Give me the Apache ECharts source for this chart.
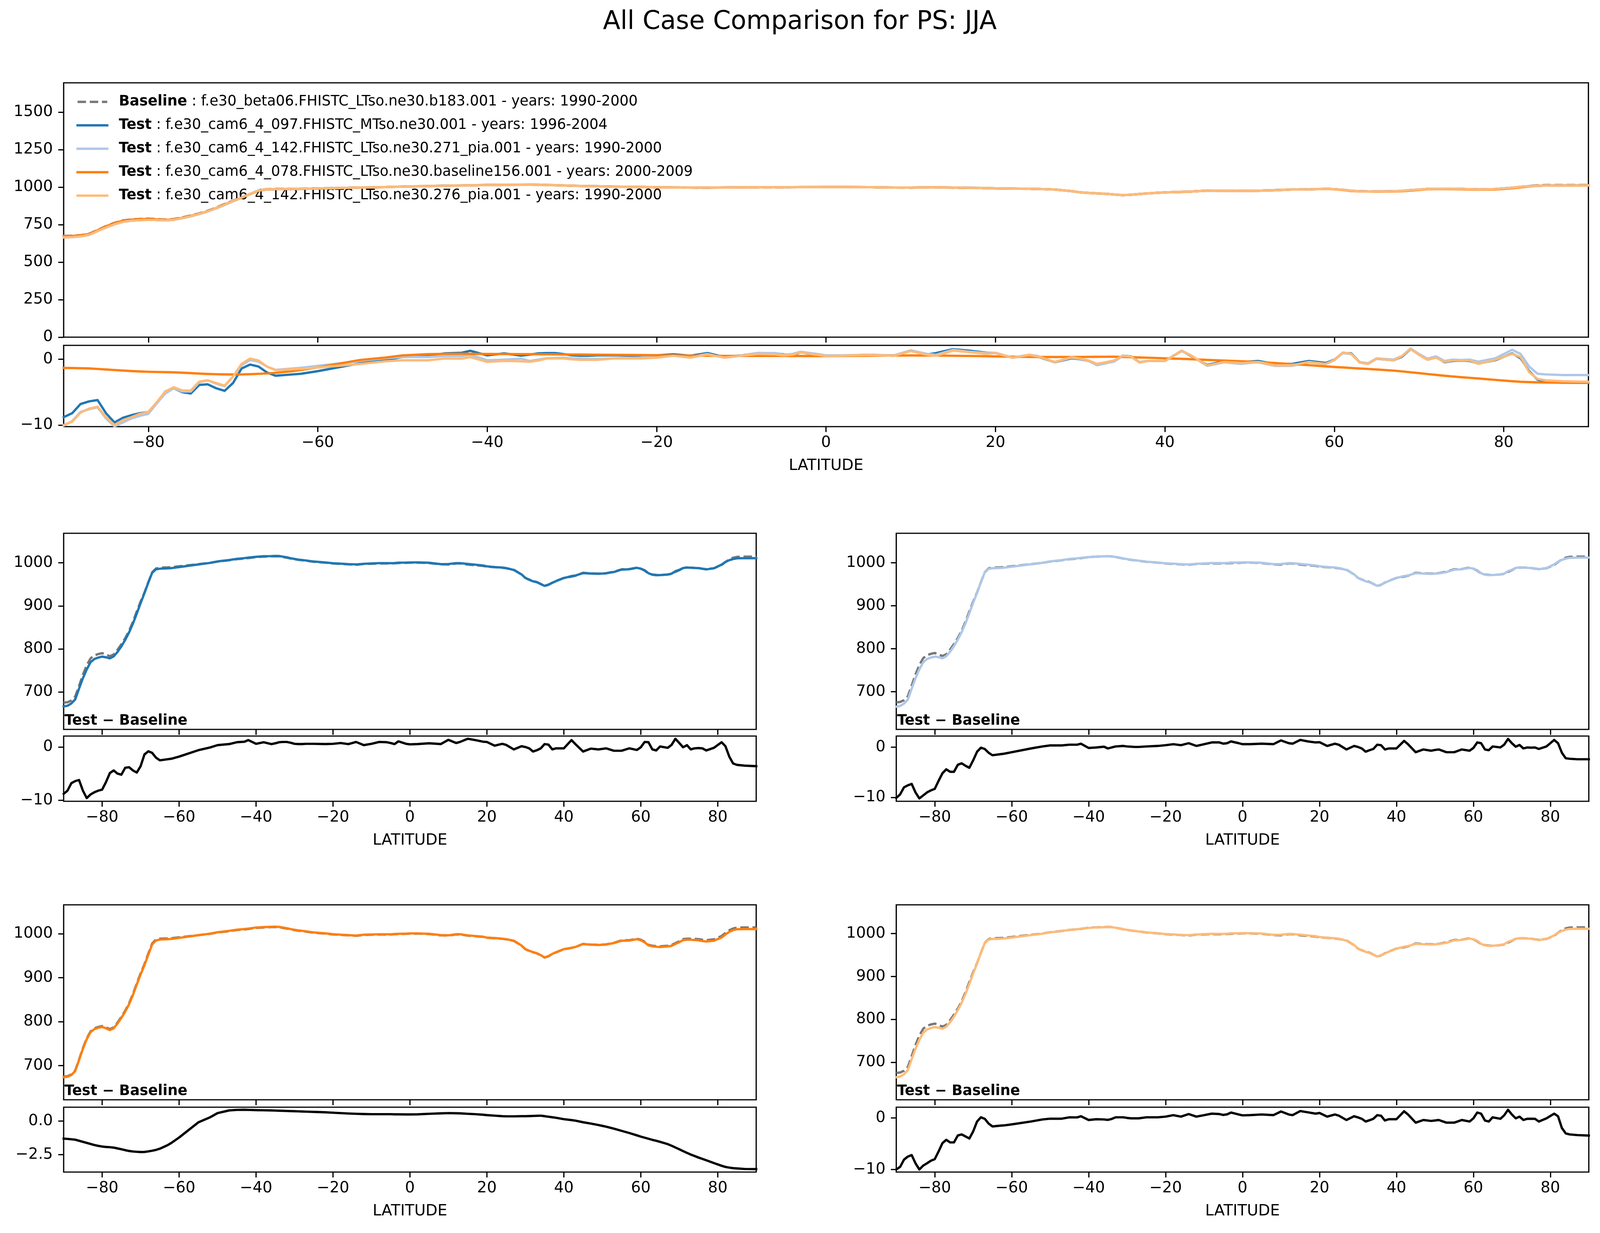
<!DOCTYPE html>
<html><head><meta charset="utf-8">
<script src="https://cdn.jsdelivr.net/npm/echarts@6/dist/echarts.min.js"></script>
<style>html,body{margin:0;padding:0;background:#fff;overflow:hidden;width:100%;height:100%}#c{width:100vw;height:100vh}</style>
</head><body><div id="c"></div>
<script>
// ---------------- DATA ----------------
const lat = [-90,-89,-88,-87,-86,-85,-84,-83,-82,-81,
 -80,-79,-78,-77,-76,-75,-74,-73,-72,-71,
 -70,-69,-68,-67,-66,-65,-63,-62,-60,-55,
 -52,-50,-47,-45,-43,-42,-40,-38,-36,-35,
 -34,-33,-32,-31,-30,-29,-28,-27,-25,-22,
 -20,-18,-16,-14,-12,-10,-8,-6,-5,-4,
 -3,-1,0,2,5,8,10,12,13,15,
 17,19,20,22,24,25,27,29,30,31,
 32,33,34,35,36,37,38,40,42,43,
 45,47,49,50,51,53,55,57,59,60,
 61,62,63,64,65,67,68,69,70,71,
 72,73,74,75,76,77,79,81,82,83,
 84,85,87,90];

const baselinePS = [675,676,680,689,714,740,762,778,785,788,
 790,787,783,787,798,811,825,842,863,887,
 910,931,955,978,987,989,989.5,990,992,997,
 1000,1003,1006,1008.5,1010,1011,1013.5,1014.5,1015.2,1015.5,
 1015,1013.5,1012,1010,1008.5,1007,1006,1005,1002.5,1000.5,
 998.5,997.5,996.5,995.5,997.5,998,998.5,998.5,998.5,999,
 999.5,1000,1000.5,1000.5,999.5,996.5,996,998.5,998.5,996,
 994.5,993,991,990,988.5,987.5,984,973,965,961,
 958,955.5,951,946,949,954,958,965,968,970,
 977,975.5,975,975.5,976,979.5,985,985.5,989,986.5,
 982,975,973,972,971.5,973,974.5,979,983,988,
 989,989,988.5,988,986.5,985.5,987.5,995,1002,1008,
 1012,1014,1014.5,1014.5];

const diffTest1 = [-8.8,-8.2,-6.8,-6.4,-6.2,-8.2,-9.6,-8.9,-8.5,-8.2,
 -8.0,-6.6,-4.9,-4.4,-5.0,-5.2,-3.9,-3.8,-4.4,-4.8,
 -3.6,-1.4,-0.8,-1.1,-2.0,-2.5,-2.3,-2.2,-1.8,-0.6,
 -0.1,0.35,0.55,0.9,1.0,1.3,0.6,0.9,0.55,0.7,
 0.9,0.95,0.95,0.8,0.6,0.55,0.55,0.6,0.6,0.55,
 0.6,0.75,0.55,0.95,0.35,0.6,0.95,0.9,0.75,0.55,
 1.07,0.6,0.5,0.55,0.7,0.55,1.35,0.75,0.95,1.55,
 1.3,1.0,0.95,0.25,0.6,0.4,-0.45,0.15,0.0,-0.25,
 -0.85,-0.6,-0.25,0.55,0.45,-0.45,-0.25,-0.25,1.3,0.55,
 -0.85,-0.3,-0.45,-0.35,-0.25,-0.7,-0.7,-0.25,-0.55,-0.05,
 0.95,0.9,-0.45,-0.65,0.1,-0.15,0.4,1.55,0.75,-0.05,
 0.35,-0.45,-0.25,-0.2,-0.25,-0.65,-0.15,0.9,0.15,-1.8,
 -3.1,-3.35,-3.5,-3.6];

const diffTest2 = [-10.1,-9.4,-8.0,-7.6,-7.3,-9.0,-10.2,-9.6,-9.0,-8.6,
 -8.3,-6.7,-5.2,-4.4,-4.9,-4.9,-3.5,-3.2,-3.7,-4.1,
 -2.6,-0.9,-0.1,-0.35,-1.1,-1.6,-1.4,-1.3,-1.0,-0.25,
 0.15,0.35,0.35,0.5,0.5,0.7,-0.15,-0.05,0.1,-0.25,
 -0.05,0.15,0.2,0.25,0.15,0.1,0.05,0.05,0.15,0.25,
 0.4,0.6,0.4,0.8,0.25,0.6,0.95,0.95,0.7,0.8,
 1.15,0.8,0.6,0.6,0.7,0.6,1.35,0.8,0.7,1.45,
 1.15,0.95,1.0,0.25,0.7,0.5,-0.45,0.25,0.05,-0.25,
 -0.9,-0.6,-0.35,0.5,0.4,-0.45,-0.25,-0.25,1.25,0.6,
 -1.0,-0.45,-0.7,-0.55,-0.45,-1.0,-1.0,-0.45,-0.7,-0.15,
 0.95,0.8,-0.45,-0.6,0.15,-0.05,0.5,1.65,0.8,0.1,
 0.45,-0.25,-0.05,-0.1,-0.05,-0.35,0.15,1.45,0.8,-1.1,
 -2.2,-2.3,-2.4,-2.4];

const diffTest3 = [-1.31,-1.33,-1.36,-1.39,-1.47,-1.55,-1.63,-1.71,-1.79,-1.85,
 -1.90,-1.93,-1.95,-1.98,-2.04,-2.10,-2.17,-2.23,-2.27,-2.29,
 -2.31,-2.30,-2.26,-2.21,-2.15,-2.06,-1.80,-1.63,-1.23,-0.10,
 0.27,0.59,0.79,0.83,0.84,0.83,0.81,0.80,0.79,0.78,
 0.77,0.76,0.75,0.74,0.73,0.72,0.71,0.70,0.68,0.65,
 0.62,0.59,0.56,0.54,0.52,0.51,0.51,0.51,0.51,0.50,
 0.50,0.49,0.49,0.50,0.54,0.57,0.59,0.58,0.57,0.54,
 0.51,0.47,0.44,0.40,0.36,0.35,0.35,0.36,0.36,0.37,
 0.38,0.39,0.40,0.36,0.32,0.28,0.24,0.14,0.07,0.03,
 -0.09,-0.19,-0.30,-0.36,-0.42,-0.57,-0.73,-0.89,-1.07,-1.16,
 -1.24,-1.32,-1.40,-1.47,-1.55,-1.72,-1.84,-1.97,-2.10,-2.24,
 -2.37,-2.50,-2.61,-2.72,-2.82,-2.92,-3.13,-3.33,-3.42,-3.47,
 -3.51,-3.53,-3.57,-3.58];

const diffTest4 = [-10.0,-9.5,-8.1,-7.5,-7.2,-8.8,-10.0,-9.25,-8.8,-8.3,
 -8.0,-6.5,-4.9,-4.25,-4.75,-4.75,-3.4,-3.2,-3.6,-4.0,
 -2.6,-0.7,0.12,-0.17,-1.1,-1.65,-1.5,-1.45,-1.25,-0.7,
 -0.3,-0.15,-0.15,0.12,0.1,0.33,-0.4,-0.25,-0.3,-0.38,
 -0.2,0.12,0.12,0.12,0.0,-0.08,-0.08,-0.08,0.12,0.12,
 0.25,0.54,0.25,0.75,0.25,0.54,0.83,0.75,0.58,0.7,
 1.04,0.67,0.5,0.54,0.67,0.54,1.25,0.67,0.54,1.33,
 1.08,0.83,0.96,0.25,0.67,0.45,-0.4,0.33,0.1,-0.17,
 -0.7,-0.45,-0.17,0.54,0.42,-0.5,-0.25,-0.25,1.29,0.67,
 -0.92,-0.4,-0.58,-0.5,-0.4,-0.92,-0.92,-0.4,-0.7,-0.08,
 1.04,0.83,-0.5,-0.7,0.12,-0.17,0.5,1.58,0.67,-0.08,
 0.25,-0.4,-0.17,-0.15,-0.17,-0.7,-0.08,0.83,0.33,-1.96,
 -3.0,-3.2,-3.33,-3.42];

const caseNames = [
  'f.e30_beta06.FHISTC_LTso.ne30.b183.001 - years: 1990-2000',
  'f.e30_cam6_4_097.FHISTC_MTso.ne30.001 - years: 1996-2004',
  'f.e30_cam6_4_142.FHISTC_LTso.ne30.271_pia.001 - years: 1990-2000',
  'f.e30_cam6_4_078.FHISTC_LTso.ne30.baseline156.001 - years: 2000-2009',
  'f.e30_cam6_4_142.FHISTC_LTso.ne30.276_pia.001 - years: 1990-2000'
];
const xTicks = [-80,-60,-40,-20,0,20,40,60,80];
const yTicksTop = [0,250,500,750,1000,1250,1500];
const yTicksPanel = [700,800,900,1000];
const yTicksDiff = [-10,0];
const yTicksDiff3 = [-2.5,0];
const titleText = 'All Case Comparison for PS: JJA';

// ---------------- BUILD ----------------
const el = document.getElementById('c');
const W = el.clientWidth || 4147, H = el.clientHeight || 3156;
const sx = W / 4147, sy = H / 3156, sf = Math.min(sx, sy);
const X = v => v * sx, Y = v => v * sy, S = v => v * sf;

const diffs = [diffTest1, diffTest2, diffTest3, diffTest4];
const tests = diffs.map(d => baselinePS.map((b, i) => b + d[i]));
const colors = ['#1f77b4', '#aec7e8', '#ff7f0e', '#ffbb78'];
const baseColor = '#787878';
const FONT = 'DejaVu Sans';
const LW = S(6);
const DASH = [S(22), S(9.6)];
const TICKF = S(40);

const fmtInt = v => (v < 0 ? '\u2212' : '') + Math.abs(v);
const fmt1 = v => (v < 0 ? '\u2212' : '') + Math.abs(v).toFixed(1);

const grids = [], xAxes = [], yAxes = [], series = [];
function addGrid(box, yMin, yMax, yTicks, showX, yFmt) {
  const idx = grids.length;
  grids.push({left: X(box.l), top: Y(box.t), width: X(box.w), height: Y(box.h), show: true,
    borderColor: '#000', borderWidth: S(3.2), backgroundColor: 'rgba(0,0,0,0)',
    containLabel: false, outerBoundsMode: 'none'});
  xAxes.push({type: 'value', gridIndex: idx, min: -90, max: 90, position: 'bottom',
    axisLine: {show: false, onZero: false}, splitLine: {show: false},
    axisTick: {show: true, length: S(14), inside: false, customValues: xTicks, lineStyle: {color: '#000', width: S(3.2)}},
    axisLabel: {show: showX, customValues: xTicks, fontSize: TICKF, fontFamily: FONT, color: '#000', margin: S(22), formatter: fmtInt},
    name: showX ? 'LATITUDE' : '', nameLocation: 'middle', nameGap: S(82), nameMoveOverlap: false,
    nameTextStyle: {fontSize: TICKF, fontFamily: FONT, color: '#000'}});
  yAxes.push({type: 'value', gridIndex: idx, min: yMin, max: yMax, position: 'left',
    axisLine: {show: false, onZero: false}, splitLine: {show: false},
    axisTick: {show: true, length: S(14), inside: false, customValues: yTicks, lineStyle: {color: '#000', width: S(3.2)}},
    axisLabel: {show: true, customValues: yTicks, fontSize: TICKF, fontFamily: FONT, color: '#000', margin: S(28), formatter: yFmt || fmtInt}});
  return idx;
}
function addLine(idx, name, ys, color, dashed, z) {
  series.push({type: 'line', name: name, xAxisIndex: idx, yAxisIndex: idx,
    data: lat.map((x, i) => [x, ys[i]]), symbol: 'none', showSymbol: false, smooth: false,
    silent: true, clip: true, z: z,
    lineStyle: {color: color, width: LW, type: dashed ? DASH : 'solid', cap: dashed ? 'butt' : 'square', join: 'round'},
    itemStyle: {color: color}});
}

// top panel
const gTop = addGrid({l: 165, t: 212, w: 3952, h: 651}, 0, 1695, yTicksTop, false);
addLine(gTop, 'Baseline', baselinePS, baseColor, true, 2);
tests.forEach((t, k) => addLine(gTop, 'Test ' + (k + 1), t, colors[k], false, 3 + k));
const gTopD = addGrid({l: 165, t: 884, w: 3952, h: 208}, -10.24, 2.12, yTicksDiff, true);
diffs.forEach((d, k) => addLine(gTopD, 'topdiff' + k, d, colors[k], false, 3 + k));

// small panels
const panels = [
  {l: 165, t: 1365, h: 502, dt: 1884, dh: 167, yr: [612.8, 1068.8], dr: [-10.2, 2.06], dtk: yTicksDiff, df: fmtInt},
  {l: 2323, t: 1365, h: 502, dt: 1884, dh: 167, yr: [612, 1068.9], dr: [-10.77, 2.22], dtk: yTicksDiff, df: fmtInt},
  {l: 165, t: 2316, h: 499, dt: 2834, dh: 166, yr: [622.3, 1066], dr: [-3.8, 1.03], dtk: yTicksDiff3, df: fmt1},
  {l: 2323, t: 2316, h: 499, dt: 2834, dh: 166, yr: [612.4, 1067], dr: [-10.5, 2.08], dtk: yTicksDiff, df: fmtInt}
];
const graphics = [{type: 'text', x: X(2073), y: Y(57), z: 100,
  style: {text: titleText, font: S(66) + 'px "DejaVu Sans"', fill: '#000', textAlign: 'center', textVerticalAlign: 'middle'}}];
panels.forEach((p, k) => {
  const w = 1795;
  const gm = addGrid({l: p.l, t: p.t, w: w, h: p.h}, p.yr[0], p.yr[1], yTicksPanel, false);
  addLine(gm, 'pbase' + k, baselinePS, baseColor, true, 2);
  addLine(gm, 'ptest' + k, tests[k], colors[k], false, 3);
  const gd = addGrid({l: p.l, t: p.dt, w: w, h: p.dh}, p.dr[0], p.dr[1], p.dtk, true, p.df);
  addLine(gd, 'pdiff' + k, diffs[k], '#000', false, 3);
  graphics.push({type: 'text', x: X(p.l + 2), y: Y(p.t + p.h - 3), z: 100,
    style: {text: 'Test \u2212 Baseline', font: 'bold ' + S(37) + 'px "DejaVu Sans"', fill: '#000', textAlign: 'left', textVerticalAlign: 'bottom'}});
});

const legendNames = ['Baseline', 'Test 1', 'Test 2', 'Test 3', 'Test 4'];
const LF = S(37), LH = S(44);
const chart = echarts.init(el, null, {renderer: 'canvas', width: W, height: H});
chart.setOption({
  animation: false,
  backgroundColor: '#fff',
  textStyle: {fontFamily: FONT},
  grid: grids, xAxis: xAxes, yAxis: yAxes, series: series,
  graphic: graphics,
  legend: {
    data: legendNames, orient: 'vertical', left: X(198), top: Y(239), padding: 0,
    itemWidth: S(77), itemHeight: S(20), itemGap: Y(60) - LH, selectedMode: false,
    itemStyle: {opacity: 0, borderWidth: 0},
    lineStyle: {width: LW},
    textStyle: {fontSize: LF, fontFamily: FONT, color: '#000', lineHeight: LH, padding: [0, 0, 0, S(25)],
      rich: {b: {fontWeight: 'bold', fontSize: LF, fontFamily: FONT, color: '#000', lineHeight: LH},
             r: {fontSize: LF, fontFamily: FONT, color: '#000', lineHeight: LH}}},
    formatter: function (name) {
      const i = legendNames.indexOf(name);
      return '{b|' + (i === 0 ? 'Baseline' : 'Test') + '}{r| : ' + caseNames[i] + '}';
    }
  }
});
</script>
</body></html>
